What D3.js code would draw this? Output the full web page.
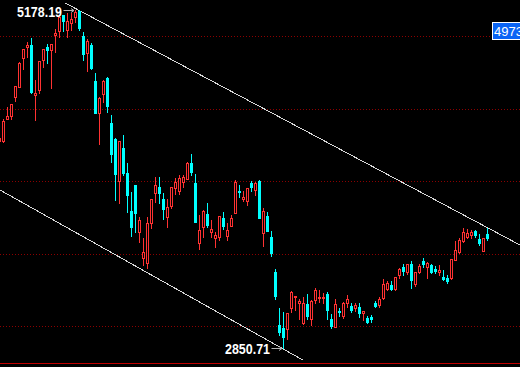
<!DOCTYPE html>
<html>
<head>
<meta charset="utf-8">
<script src="https://cdn.jsdelivr.net/npm/d3@7"></script>
<style>
  html, body { margin: 0; padding: 0; background: #000; overflow: hidden; }
</style>
</head>
<body>
<script>
// daily candles, oldest first (first one is cut by the left edge)
const opens = [4276,4276,4430,4450,4581,4650,4850,4926,4938,4595,4628,4835,4926,4904,5009,5037,5145,5041,5092,5133,
  5174,5000,4885,4938,4690,4467,4598,4712,4398,4288,4002,4228,4053,3793,3972,3650,3467,3432,3708,3915,
  3961,3874,3754,3830,3950,3933,3995,4014,4126,3988,3570,3685,3772,3650,3609,3616,3743,3621,3690,3781,
  3931,3876,3864,3984,3938,4000,3644,3759,3612,3370,3007,2984,2977,3126,3202,3157,3023,3150,3048,3179,
  3191,3191,3219,3048,2995,3104,3069,3161,3138,3126,3133,3088,3057,3059,3161,3145,3191,3257,3283,3253,
  3352,3409,3370,3428,3290,3370,3450,3409,3421,3395,3375,3340,3333,3329,3455,3512,3588,3616,3628,3655,
  3598,3519,3635];
const highs = [4310,4426,4512,4531,4655,4823,4908,4957,4984,4697,4828,4908,4943,4945,5048,5129,5145,5157,5157,5178.19,
  5176,5030,4977,4950,4743,4581,4697,4719,4455,4295,4276,4317,4122,3926,3972,3750,3605,3750,3874,4030,
  4030,3915,3874,3957,4019,4041,4041,4129,4186,4048,3766,3800,3846,3731,3650,3759,3788,3708,3766,4007,
  3972,3933,3950,4000,3995,4007,3812,3788,3655,3393,3126,3095,3088,3241,3207,3184,3202,3219,3179,3260,
  3248,3226,3237,3081,3184,3126,3168,3214,3161,3157,3157,3104,3069,3076,3175,3198,3322,3310,3312,3338,
  3398,3428,3426,3448,3370,3426,3467,3444,3426,3414,3421,3386,3352,3460,3586,3605,3674,3667,3662,3662,
  3635,3605,3674];
const lows = [4269,4271,4428,4428,4552,4646,4775,4857,4605,4421,4609,4788,4816,4644,4892,4991,5037,4995,5041,5099,
  5041,4835,4759,4770,4467,4255,4547,4478,4133,3869,3846,4041,3788,3621,3650,3581,3421,3398,3674,3857,
  3850,3738,3685,3812,3910,3910,3957,4014,4041,3719,3531,3612,3685,3616,3547,3593,3669,3593,3690,3779,
  3892,3864,3835,3933,3904,3745,3552,3655,3485,3186,2938,2850.71,2908,3099,3110,3048,3014,3048,3007,3161,
  3168,3161,3048,2988,2991,3071,3053,3133,3099,3106,3064,3041,3019,3028,3129,3133,3184,3248,3248,3250,
  3329,3352,3357,3264,3276,3364,3405,3329,3364,3364,3352,3317,3299,3327,3455,3506,3581,3605,3605,3616,
  3559,3519,3593];
const closes = [4297,4414,4448,4531,4655,4816,4908,4938,4614,4605,4828,4908,4904,4945,5023,5129,5106,5104,5117,5168,
  5057,4876,4966,4777,4471,4575,4690,4517,4186,4048,4276,4053,3904,3685,3777,3731,3508,3708,3874,3972,
  3919,3805,3819,3957,3995,4019,4030,4122,4064,3719,3662,3793,3697,3667,3628,3759,3690,3662,3747,3995,
  3926,3892,3950,3961,3988,3747,3793,3655,3506,3207,2957,2922,3088,3232,3207,3172,3161,3071,3172,3248,
  3200,3200,3110,3000,3150,3099,3157,3184,3110,3145,3092,3104,3030,3045,3140,3184,3290,3295,3255,3336,
  3391,3379,3426,3317,3370,3414,3428,3437,3375,3381,3386,3322,3312,3460,3524,3593,3646,3639,3646,3628,
  3575,3605,3605];

const gridLevels = [5000, 4500, 4000, 3500, 3000];
// channel lines: [bar index, price]
const upperChannel = [[16.4, 5228], [132, 3531]];
const lowerChannel = [[0, 3940], [75.8, 2766]];
const priceTag = "4973";

const width = 520;
const height = 367;
const upColor = "#ff3232";
const downColor = "#00ffff";

const svg = d3.select("body").append("svg")
  .attr("width", width)
  .attr("height", height)
  .style("display", "block")
  .style("background", "#000");

const x = d3.scaleLinear().domain([0, opens.length - 1]).range([-0.5, -0.5 + 4 * (opens.length - 1)]);
const y = d3.scaleLinear().domain([5000, 3000]).range([36, 326]);
const py = v => Math.round(y(v));

// grid
svg.append("g")
  .selectAll("line")
  .data(gridLevels)
  .join("line")
  .attr("x1", 0).attr("x2", width)
  .attr("y1", d => py(d) + 0.5).attr("y2", d => py(d) + 0.5)
  .attr("stroke", "#8c0000")
  .attr("stroke-dasharray", "1,2")
  .attr("shape-rendering", "crispEdges");

// bottom border
svg.append("line")
  .attr("x1", 0).attr("x2", width)
  .attr("y1", height - 3.5).attr("y2", height - 3.5)
  .attr("stroke", "#c00000")
  .attr("shape-rendering", "crispEdges");

// channel
const line = d3.line().x(d => x(d[0])).y(d => y(d[1]));
svg.append("g")
  .selectAll("path")
  .data([upperChannel, lowerChannel])
  .join("path")
  .attr("d", line)
  .attr("fill", "none")
  .attr("stroke", "#d8d8d8")
  .attr("stroke-width", 1)
  .attr("shape-rendering", "crispEdges");

// candles
const candles = svg.append("g").attr("shape-rendering", "crispEdges");
d3.range(opens.length).forEach(i => {
  const cx = x(i);
  const o = opens[i], c = closes[i];
  const top = py(Math.max(o, c)), bot = py(Math.min(o, c));
  const hi = py(highs[i]), lo = py(lows[i]);
  const g = candles.append("g");
  if (c >= o) {
    if (top > hi) g.append("rect").attr("x", cx - 0.5).attr("y", hi).attr("width", 1).attr("height", top - hi).attr("fill", upColor);
    if (lo > bot) g.append("rect").attr("x", cx - 0.5).attr("y", bot + 1).attr("width", 1).attr("height", lo - bot).attr("fill", upColor);
    g.append("rect").attr("x", cx - 1.5).attr("y", top).attr("width", 3).attr("height", bot - top + 1).attr("fill", upColor);
    if (bot - top >= 2) g.append("rect").attr("x", cx - 0.5).attr("y", top + 1).attr("width", 1).attr("height", bot - top - 1).attr("fill", "#000");
  } else {
    g.append("rect").attr("x", cx - 0.5).attr("y", hi).attr("width", 1).attr("height", lo - hi + 1).attr("fill", downColor);
    g.append("rect").attr("x", cx - 1.5).attr("y", top).attr("width", 3).attr("height", bot - top + 1).attr("fill", downColor);
  }
});

// high / low markers
const hiIdx = d3.maxIndex(highs);
const loIdx = d3.minIndex(lows);
function marker(i, v) {
  const cx = x(i), yy = y(v);
  const ay = Math.round(yy) + 0.5;
  svg.append("path")
    .attr("d", `M${cx - 12},${ay}H${cx - 1.5}M${cx - 4.5},${ay - 2}L${cx - 1.5},${ay}L${cx - 4.5},${ay + 2}`)
    .attr("fill", "none")
    .attr("stroke", "#b4b4b4");
  svg.append("text")
    .attr("x", cx - 58.5)
    .attr("y", yy + 6.5)
    .attr("textLength", 45)
    .attr("lengthAdjust", "spacingAndGlyphs")
    .attr("font-family", "'Liberation Sans', Arial, sans-serif")
    .attr("font-weight", "bold")
    .attr("font-size", 15)
    .attr("fill", "#fff")
    .text(d3.format(".2f")(v));
}
marker(hiIdx, highs[hiIdx]);
marker(loIdx, lows[loIdx]);

// price tag on the right
const tagY = py(gridLevels[0]) - 14;
svg.append("rect")
  .attr("x", 492.5).attr("y", tagY + 0.5)
  .attr("width", 40).attr("height", 17)
  .attr("fill", "#0a64f5")
  .attr("stroke", "#fff");
svg.append("text")
  .attr("x", 494)
  .attr("y", tagY + 14)
  .attr("font-family", "'Liberation Sans', Arial, sans-serif")
  .attr("font-size", 13)
  .attr("fill", "#fff")
  .text(priceTag);
</script>
</body>
</html>
